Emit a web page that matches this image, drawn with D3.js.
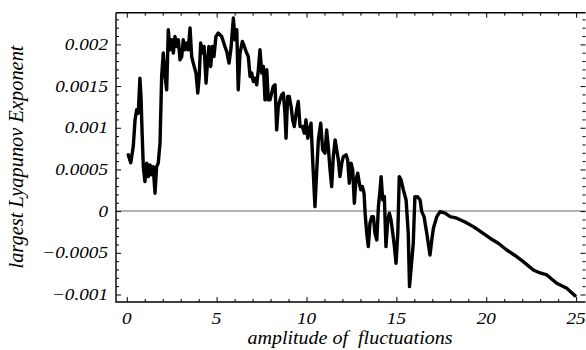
<!DOCTYPE html>
<html>
<head>
<meta charset="utf-8">
<script src="https://cdn.jsdelivr.net/npm/d3@7"></script>
<style>
html,body{margin:0;padding:0;background:#fff;}
svg{display:block;}
</style>
</head>
<body>
<svg id="chart" width="586" height="350"></svg>
<script>
// amplitude of fluctuations (x) and largest Lyapunov exponent (y)
const amplitude = [0.08,0.22,0.36,0.46,0.55,0.64,0.73,0.79,0.86,0.92,1.01,1.11,1.20,1.29,1.39,1.47,1.57,1.66,1.75,1.85,1.94,2.03,2.13,2.22,2.31,2.40,2.50,2.59,2.68,2.78,2.87,2.96,3.06,3.14,3.24,3.33,3.42,3.52,3.61,3.70,3.85,3.95,4.03,4.11,4.20,4.30,4.41,4.50,4.57,4.67,4.76,4.85,4.96,5.09,5.28,5.37,5.46,5.56,5.69,5.80,5.93,6.02,6.12,6.20,6.30,6.43,6.54,6.67,6.76,6.86,6.95,7.04,7.13,7.23,7.32,7.41,7.51,7.60,7.69,7.79,7.87,7.97,8.06,8.15,8.25,8.34,8.43,8.53,8.62,8.71,8.80,8.86,8.95,9.04,9.14,9.23,9.32,9.45,9.54,9.64,9.77,9.88,9.97,10.07,10.16,10.25,10.36,10.47,10.57,10.66,10.79,10.90,11.03,11.12,11.21,11.31,11.40,11.49,11.59,11.68,11.77,11.86,11.96,12.05,12.20,12.29,12.38,12.48,12.57,12.66,12.75,12.85,12.94,13.02,13.11,13.20,13.26,13.35,13.44,13.53,13.63,13.72,13.81,13.91,14.00,14.09,14.15,14.24,14.33,14.42,14.52,14.61,14.70,14.80,14.89,14.98,15.08,15.16,15.26,15.39,15.54,15.66,15.73,15.94,16.03,16.17,16.32,16.41,16.54,16.69,16.87,16.97,17.06,17.25,17.43,17.71,17.99,18.36,18.82,19.28,19.71,20.21,20.67,21.14,21.60,22.06,22.62,23.00,23.37,23.92,24.48,24.94];
const lyapunov = [0.000675,0.000579,0.000774,0.001095,0.001215,0.001175,0.001595,0.001375,0.000894,0.000534,0.000354,0.000575,0.000414,0.000555,0.000435,0.000534,0.000215,0.000534,0.000575,0.000819,0.001615,0.001896,0.001615,0.001455,0.002175,0.001935,0.002055,0.001896,0.002095,0.001975,0.002055,0.001815,0.001855,0.002055,0.001935,0.002016,0.001935,0.002196,0.001855,0.001776,0.001655,0.001415,0.001615,0.002016,0.001896,0.001975,0.001535,0.001815,0.001975,0.001735,0.001975,0.001855,0.002095,0.002136,0.002095,0.002035,0.001975,0.001915,0.001776,0.001956,0.002316,0.002055,0.002175,0.001455,0.001896,0.002035,0.001975,0.001896,0.001855,0.001615,0.001655,0.001555,0.001595,0.001515,0.001695,0.001935,0.001655,0.001735,0.001335,0.001695,0.001335,0.001335,0.001415,0.001495,0.001515,0.000975,0.001255,0.001335,0.001395,0.001415,0.001175,0.000875,0.001375,0.001375,0.001255,0.001095,0.001015,0.001215,0.001315,0.001015,0.001015,0.000935,0.001095,0.000875,0.000975,0.001055,0.000534,0.000054,0.000495,0.000855,0.001055,0.000735,0.000695,0.000975,0.000774,0.000495,0.000294,0.000654,0.000855,0.000735,0.000615,0.000414,0.000575,0.000654,0.000675,0.000615,0.000335,0.000575,0.000495,0.000095,0.000375,0.000455,0.000335,0.000255,0.000294,0.000215,-0.000025,-0.000265,-0.000426,-0.000145,-0.000066,-0.000066,-0.000265,-0.000346,0.000054,0.000255,0.000414,0.000134,0.000174,-0.000426,-0.000106,-0.000025,-0.000106,-0.000265,-0.000426,-0.000625,-0.000265,0.000414,0.000375,0.000255,0.000134,-0.000265,-0.000906,-0.000385,0.000174,0.000174,0.000134,-0.000006,-0.000066,-0.000265,-0.000526,-0.000346,-0.000205,-0.000066,-0.000006,-0.000025,-0.000066,-0.000085,-0.000130,-0.000186,-0.000250,-0.000325,-0.000385,-0.000466,-0.000532,-0.000606,-0.000706,-0.000742,-0.000766,-0.000866,-0.000926,-0.001014];

const xTickValues = [0,5,10,15,20,25];
const xTickLabels = ["0","5","10","15","20","25"];
const yTickValues = [-0.001,-0.0005,0,0.0005,0.001,0.0015,0.002];
const yTickLabels = ["\u22120.001","\u22120.0005","0","0.0005","0.001","0.0015","0.002"];
const xLabel = "amplitude of  fluctuations";
const yLabel = "largest Lyapunov Exponent";

const FONT = "'Liberation Serif', 'Times New Roman', Times, serif";
const svg = d3.select("#chart");
const L = 116, R = 585.5, T = 12.7, B = 302;
const x = d3.scaleLinear().domain([-0.6, 25.55]).range([L, 586]);
const y = d3.scaleLinear().domain([-0.00109, 0.00238]).range([B, T]);

const xMinor = d3.range(0, 26, 1).filter(v => v % 5 !== 0);
const yMinor = d3.range(-10, 24, 1).map(v => v / 10000).filter(v => Math.abs(Math.round(v * 10000)) % 5 !== 0);

// zero line
svg.append("line")
  .attr("x1", L).attr("x2", R)
  .attr("y1", y(0)).attr("y2", y(0))
  .attr("stroke", "#9a9a9a").attr("stroke-width", 1.5);

// curve
svg.append("path")
  .datum(amplitude.map((a, i) => [a, lyapunov[i]]))
  .attr("fill", "none")
  .attr("stroke", "#000")
  .attr("stroke-width", 3.4)
  .attr("stroke-linejoin", "round")
  .attr("stroke-linecap", "round")
  .attr("d", d3.line().x(d => x(d[0])).y(d => y(d[1])));

// ticks (inward) on all four sides
function ticks(axisFn, scale, vals, size, transform) {
  const g = svg.append("g").attr("transform", transform)
    .call(axisFn(scale).tickValues(vals).tickSize(size).tickFormat(""));
  g.select(".domain").remove();
  g.selectAll(".tick line").attr("stroke", "#000").attr("stroke-width", 1);
}
ticks(d3.axisBottom, x, xTickValues, -5, `translate(0,${B})`);
ticks(d3.axisBottom, x, xMinor, -3, `translate(0,${B})`);
ticks(d3.axisTop, x, xTickValues, -5, `translate(0,${T})`);
ticks(d3.axisTop, x, xMinor, -3, `translate(0,${T})`);
ticks(d3.axisLeft, y, yTickValues, -5, `translate(${L},0)`);
ticks(d3.axisLeft, y, yMinor, -3, `translate(${L},0)`);
ticks(d3.axisRight, y, yTickValues, -5, `translate(${R},0)`);
ticks(d3.axisRight, y, yMinor, -3, `translate(${R},0)`);

// frame
svg.append("path")
  .attr("d", `M${L},${T}H${R}M${L},${T}V${B}H${R}`)
  .attr("fill", "none").attr("stroke", "#000").attr("stroke-width", 1.4);

// tick labels
svg.selectAll(".xl").data(xTickValues).enter().append("text")
  .attr("transform", d => `translate(${x(d)},324) scale(1.2,1)`)
  .attr("text-anchor", "middle")
  .attr("font-family", FONT).attr("font-style", "italic")
  .attr("font-size", 16)
  .text((d, i) => xTickLabels[i]);
svg.selectAll(".yl").data(yTickValues).enter().append("text")
  .attr("transform", d => `translate(108,${y(d) + 5.5}) scale(1.2,1)`)
  .attr("text-anchor", "end")
  .attr("font-family", FONT).attr("font-style", "italic")
  .attr("font-size", 16)
  .text((d, i) => yTickLabels[i]);

// axis labels
svg.append("text")
  .attr("x", 350).attr("y", 344)
  .attr("text-anchor", "middle")
  .attr("font-family", FONT).attr("font-style", "italic")
  .attr("font-size", 18)
  .attr("textLength", 205).attr("lengthAdjust", "spacingAndGlyphs")
  .style("white-space", "pre")
  .text(xLabel);
svg.append("text")
  .attr("transform", "translate(23,157) rotate(-90)")
  .attr("text-anchor", "middle")
  .attr("font-family", FONT).attr("font-style", "italic")
  .attr("font-size", 20)
  .attr("textLength", 223).attr("lengthAdjust", "spacingAndGlyphs")
  .text(yLabel);
</script>
</body>
</html>
